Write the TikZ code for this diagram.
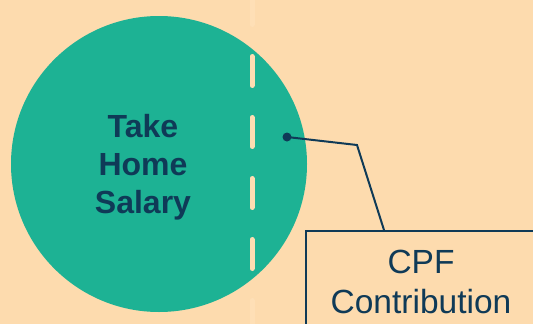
\documentclass[tikz,border=0pt]{standalone}
\usepackage{fontspec}
\setmainfont{Liberation Sans}
\definecolor{bg}{HTML}{FDDBAE}
\definecolor{teal}{HTML}{1DB294}
\definecolor{navy}{HTML}{0F3A57}
\definecolor{dashin}{HTML}{FDDDB2}
\definecolor{dashout}{HTML}{FEDFB6}
\begin{document}
\begin{tikzpicture}[x=1pt,y=-1pt,
  cutline/.style={line width=5pt, line cap=round, dash pattern=on 29pt off 32pt},
  conn/.style={draw=navy, line width=2pt},
  boxstyle/.style={draw=navy, line width=2pt, fill=bg, minimum width=232pt, minimum height=130pt, anchor=north west, inner sep=0pt},
  titletext/.style={text=navy, font=\bfseries\fontsize{32}{38}\selectfont, align=center},
  labeltext/.style={text=navy, font=\fontsize{33.5}{40}\selectfont, align=center}]
\useasboundingbox (0,0) rectangle (533,324);
\fill[bg] (0,0) rectangle (533,324);
\draw[cutline, draw=dashout] (252,-4.5) -- (252,340);
\node[circle, fill=teal, minimum size=296pt, inner sep=0pt] (salary) at (159,164) {};
\begin{scope}
  \clip (159,164) circle (148);
  \draw[cutline, draw=dashin] (252,-4.5) -- (252,340);
\end{scope}
\node[titletext] (salarytext) at (143,167) {Take\\Home\\Salary};
\node[boxstyle] (cpf) at (305,230) {};
\node[labeltext] (cpftext) at (421,282) {CPF\\Contribution};
\node[circle, fill=navy, minimum size=9pt, inner sep=0pt] (dot) at (287,137) {};
\coordinate (bend) at (357,145);
\coordinate (boxtop) at ([xshift=79pt]cpf.north west);
\draw[conn] (dot.center) -- (bend) -- (boxtop);
\end{tikzpicture}
\end{document}
